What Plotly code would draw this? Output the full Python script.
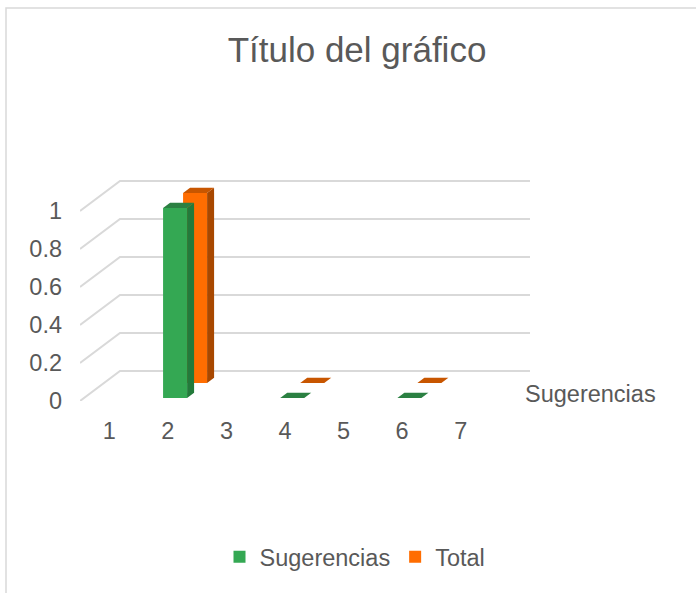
import plotly.graph_objects as go

# ---- data ----
categories = ["1", "2", "3", "4", "5", "6", "7"]
series_names = ["Sugerencias", "Total"]
sugerencias = [None, 1, None, 0, None, 0, None]
total = [None, 1, None, 0, None, 0, None]
y_ticks = [0, 0.2, 0.4, 0.6, 0.8, 1]

# ---- geometry / style ----
W, H = 696, 593
PX_PER_CAT = 410 / 7.0
PX_PER_VAL = 190.0
LEFT, RIGHT_PX, BOTTOM_PX, TOP_PX = 80, 530, 401, 150
DX = 40 / PX_PER_CAT      # full depth offset in category units
DY = 30 / PX_PER_VAL      # full depth offset in value units
BAR_OFF = 0.35            # bar left offset inside category slot
BAR_W = 0.41              # bar width (category units)
ROW_D = [0.1, 0.6]        # depth start of each series row
THICK = 0.175             # bar depth thickness
FONT = "Liberation Sans, Arial, sans-serif"
TXT = "#595959"
GRID = "#d9d9d9"

front_cols = ["#34A853", "#FF6D01"]
side_cols = ["#237A3B", "#A84800"]
top_cols = ["#2B8042", "#C85600"]

n = len(categories)
xmax = (RIGHT_PX - LEFT) / PX_PER_CAT
ymax = (BOTTOM_PX - TOP_PX) / PX_PER_VAL

fig = go.Figure()

values = [sugerencias, total]
# draw back row first, then front row
for r in [1, 0]:
    vals = values[r]
    d = ROW_D[r]
    bx, by, bb = [], [], []
    for i, v in enumerate(vals):
        if v is None:
            continue
        xl = i + BAR_OFF + d * DX
        bx.append(xl + BAR_W / 2)
        by.append(v)
        bb.append(d * DY)
    fig.add_trace(go.Bar(
        x=bx, y=by, base=bb, width=BAR_W, name=series_names[r],
        marker=dict(color=front_cols[r], line=dict(width=0)),
        hoverinfo="skip", legendrank=r + 1,
    ))
    for i, v in enumerate(vals):
        if v is None:
            continue
        xl = i + BAR_OFF + d * DX
        xr = xl + BAR_W
        yb = d * DY
        yt = yb + v
        tx, ty = THICK * DX, THICK * DY
        if v > 0:
            fig.add_trace(go.Scatter(
                x=[xr, xr + tx, xr + tx, xr, xr],
                y=[yb, yb + ty, yt + ty, yt, yb],
                fill="toself", mode="none", fillcolor=side_cols[r],
                showlegend=False, hoverinfo="skip", cliponaxis=False))
        fig.add_trace(go.Scatter(
            x=[xl, xr, xr + tx, xl + tx, xl],
            y=[yt, yt, yt + ty, yt + ty, yt],
            fill="toself", mode="none", fillcolor=top_cols[r],
            showlegend=False, hoverinfo="skip", cliponaxis=False))

shapes = []
for v in y_ticks:
    path = f"M 0,{v} L {DX},{v + DY} L {n + DX},{v + DY}"
    shapes.append(dict(type="path", path=path, xref="x", yref="y",
                       line=dict(color=GRID, width=2), layer="below"))

# chart-area border (left and top edges visible)
pw = RIGHT_PX - LEFT
ph = BOTTOM_PX - TOP_PX
bx0 = (6 - LEFT) / pw
bx1 = (W + 10 - LEFT) / pw
by_top = (BOTTOM_PX - 8) / ph
by_bot = (BOTTOM_PX - H - 10) / ph
shapes.append(dict(type="path", xref="paper", yref="paper",
                   path=f"M {bx0},{by_bot} L {bx0},{by_top} L {bx1},{by_top}",
                   line=dict(color=GRID, width=1.5), layer="below"))

# depth (series) axis label
annotations = [dict(
    x=n + 0.25 * DX, y=0.25 * DY, xref="x", yref="y",
    text=series_names[0], showarrow=False, xanchor="left", yanchor="middle",
    xshift=23, font=dict(family=FONT, size=23.5, color=TXT))]

fig.update_layout(
    width=W, height=H,
    margin=dict(l=LEFT, r=W - RIGHT_PX, t=TOP_PX, b=H - BOTTOM_PX),
    paper_bgcolor="white", plot_bgcolor="white",
    barmode="overlay",
    title=dict(text="Título del gráfico", x=357 / W, xref="container",
               xanchor="center", y=1 - 50 / H, yref="container",
               yanchor="middle", font=dict(family=FONT, size=35, color=TXT)),
    xaxis=dict(range=[0, xmax], tickvals=[i + 0.5 for i in range(n)],
               ticktext=categories, showgrid=False, zeroline=False,
               showline=False, ticks="", ticklabelstandoff=13,
               tickfont=dict(family=FONT, size=23.5, color=TXT),
               fixedrange=True),
    yaxis=dict(range=[0, ymax], tickvals=y_ticks,
               ticktext=[f"{t:g}" for t in y_ticks], showgrid=False,
               zeroline=False, showline=False, ticks="",
               ticklabelstandoff=17,
               tickfont=dict(family=FONT, size=23.5, color=TXT),
               fixedrange=True),
    legend=dict(orientation="h", xref="container", yref="container",
                x=355 / W, xanchor="center", y=1 - 557 / H, yanchor="middle",
                font=dict(family=FONT, size=23.5, color=TXT),
                traceorder="normal", itemwidth=30),
    shapes=shapes, annotations=annotations,
    showlegend=True,
)

fig.write_html("out.html", config={"displayModeBar": False},
               post_script="document.body.style.margin='0';document.body.style.overflow='hidden';")
